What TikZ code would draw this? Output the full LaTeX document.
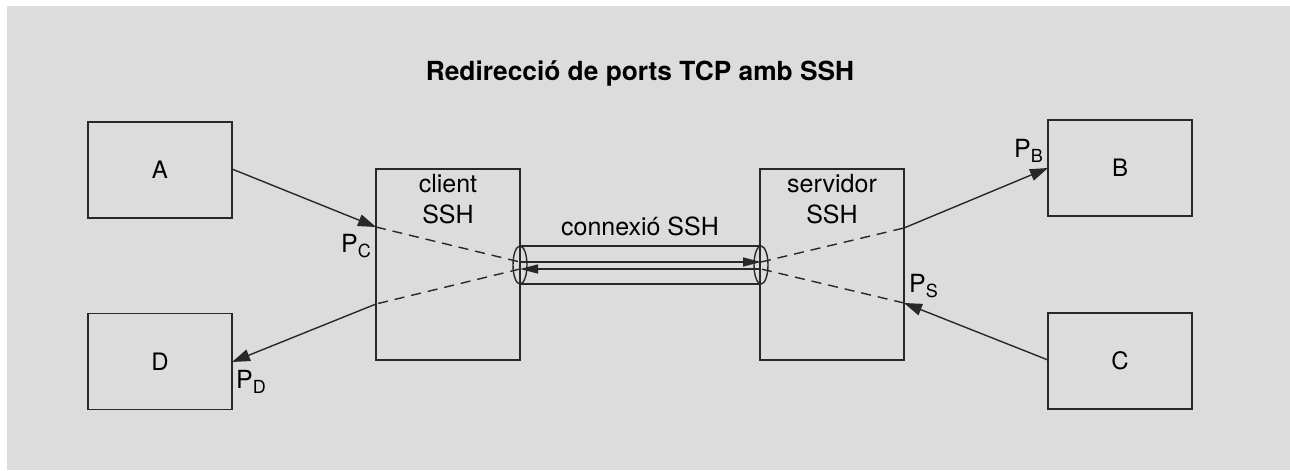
\documentclass[tikz,border=0pt]{standalone}
\usepackage{fontspec}
\setmainfont{TeX Gyre Heros}
\usetikzlibrary{arrows.meta}
\definecolor{bg}{RGB}{220,220,220}
\definecolor{ln}{RGB}{40,40,40}
\newcommand{\portlbl}[1]{P\raisebox{-5pt}{\fontsize{18}{18}\selectfont #1}}
\tikzset{
  boxnode/.style={draw=ln, line width=1.5pt, minimum width=144pt, minimum height=96pt, inner sep=0pt, font=\fontsize{24}{28}\selectfont},
  sshbox/.style={draw=ln, line width=1.5pt, minimum width=144pt, minimum height=191pt, inner sep=0pt},
  txt/.style={font=\fontsize{25}{30}\selectfont, inner sep=0pt},
  conn/.style={draw=ln, line width=1.4pt},
  arr/.style={conn, -{Triangle[length=18pt,width=12pt]}},
  tarr/.style={conn, -{Triangle[length=18pt,width=9pt]}},
  dsh/.style={conn, dash pattern=on 10pt off 7pt}
}
\begin{document}
\begin{tikzpicture}[x=1pt,y=-1pt]
\useasboundingbox (0,0) rectangle (1290,471);
\fill[bg] (7,6) rectangle (1290,470);
% title
\node[inner sep=0pt, anchor=base, font=\fontsize{26.3}{30}\selectfont\bfseries] (title) at (640,80) {Redirecció de ports TCP amb SSH};
% end boxes
\node[boxnode] (A) at (160,170) {A};
\node[boxnode] (D) at (160,361.5) {D};
\node[boxnode] (B) at (1120,168) {B};
\node[boxnode] (C) at (1120,361) {C};
% ssh boxes
\node[sshbox] (cli) at (448,264.5) {};
\node[sshbox] (srv) at (832,264.5) {};
\node[txt, anchor=base] (cli1) at (448,192) {client};
\node[txt, anchor=base] (cli2) at (448,223) {SSH};
\node[txt, anchor=base] (srv1) at (832,192) {servidor};
\node[txt, anchor=base] (srv2) at (832,223) {SSH};
\node[txt, anchor=base] (cx) at (640,235) {connexió SSH};
% tunnel
\draw[conn] (520,246) -- (761,246) (520,284) -- (761,284);
\draw[conn] (520,265) ellipse [x radius=7, y radius=19];
\draw[conn] (761,265) ellipse [x radius=7, y radius=19];
% coordinates
\coordinate (aout) at (232,169);
\coordinate (pc) at (376,227);
\coordinate (pd) at (376,304);
\coordinate (dout) at (232,362);
\coordinate (pb) at (904,228);
\coordinate (bin) at (1048,168);
\coordinate (ps) at (904,303);
\coordinate (cout) at (1048,360);
\coordinate (tl1) at (520,262);
\coordinate (tl2) at (520,269);
\coordinate (tr1) at (761,262);
\coordinate (tr2) at (761,269);
% connectors
\draw[arr] (aout) -- (pc);
\draw[dsh] (pc) -- (tl1);
\draw[tarr] (tl1) -- (tr1);
\draw[dsh] (tr1) -- (pb);
\draw[arr] (pb) -- (bin);
\draw[arr] (cout) -- (ps);
\draw[dsh] (ps) -- (tr2);
\draw[tarr] (tr2) -- (tl2);
\draw[dsh] (tl2) -- (pd);
\draw[arr] (pd) -- (dout);
% port labels
\node[txt, anchor=base west] (lpc) at (341,252) {\portlbl{C}};
\node[txt, anchor=base west] (lpb) at (1014,157) {\portlbl{B}};
\node[txt, anchor=base west] (lps) at (909,292) {\portlbl{S}};
\node[txt, anchor=base west] (lpd) at (236,388) {\portlbl{D}};
\end{tikzpicture}
\end{document}
